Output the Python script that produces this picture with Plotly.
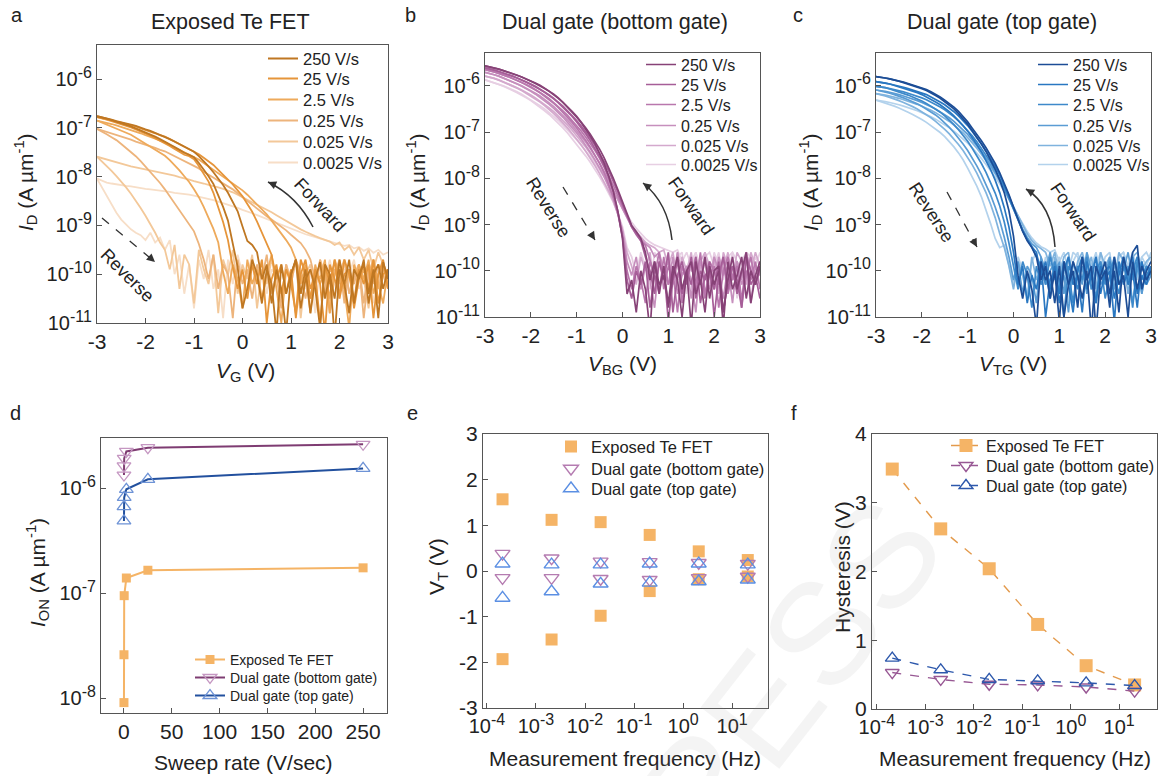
import plotly.graph_objects as go

# ---------------- data ----------------
VG = [-3.0, -2.9, -2.8, -2.7, -2.6, -2.5, -2.4, -2.3, -2.2, -2.1,
      -2.0, -1.9, -1.8, -1.7, -1.6, -1.5, -1.4, -1.3, -1.2, -1.1,
      -1.0, -0.9, -0.8, -0.7, -0.6, -0.5, -0.4, -0.3, -0.2, -0.1,
      0.0, 0.1, 0.2, 0.3, 0.4, 0.5, 0.6, 0.7, 0.8, 0.9,
      1.0, 1.1, 1.2, 1.3, 1.4, 1.5, 1.6, 1.7, 1.8, 1.9,
      2.0, 2.1, 2.2, 2.3, 2.4, 2.5, 2.6, 2.7, 2.8, 2.9, 3.0]

RATE_LABELS = ["250 V/s", "25 V/s", "2.5 V/s", "0.25 V/s", "0.025 V/s", "0.0025 V/s"]

# Panel a: exposed Te FET, log10(I_D) (forward / reverse sweeps)
A_F250 = [-6.76, -6.78, -6.80, -6.83, -6.86, -6.88, -6.91, -6.93, -6.96, -7.00,
          -7.03, -7.06, -7.10, -7.14, -7.18, -7.23, -7.28, -7.33, -7.38, -7.43,
          -7.49, -7.58, -7.68, -7.79, -7.91, -8.03, -8.17, -8.33, -8.52, -8.71,
          -9.02, -9.32, -9.40, -9.55, -10.1, -9.8, -10.6, -9.9, -10.3, -11.2,
          -10.0, -9.7, -10.4, -9.9, -10.8, -10.1, -9.75, -10.5, -10.0, -11.3,
          -9.9, -10.2, -9.7, -10.6, -10.0, -9.8, -10.4, -9.9, -10.9, -9.75, -10.1]
A_R250 = [-6.76, -6.78, -6.81, -6.84, -6.87, -6.90, -6.93, -6.97, -7.01, -7.05,
          -7.09, -7.13, -7.18, -7.23, -7.28, -7.33, -7.39, -7.45, -7.51, -7.55,
          -7.60, -7.72, -7.85, -7.99, -8.15, -8.38, -8.62, -8.90, -9.35, -9.85,
          -10.7, -10.3, -9.7, -10.0, -10.6, -9.9, -10.2, -11.2, -9.8, -10.4,
          -10.0, -9.7, -10.7, -10.1, -9.9, -10.3, -11.1, -9.8, -10.0, -10.5,
          -9.7, -10.2, -10.8, -9.9, -10.1, -9.7, -10.6, -10.0, -9.8, -10.3, -9.9]
A_F25 = [-6.78, -6.80, -6.82, -6.84, -6.87, -6.89, -6.92, -6.94, -6.97, -7.01,
         -7.04, -7.08, -7.11, -7.15, -7.18, -7.23, -7.28, -7.33, -7.38, -7.43,
         -7.48, -7.54, -7.61, -7.68, -7.76, -7.86, -7.96, -8.05, -8.16, -8.28,
         -8.40, -8.56, -8.72, -8.92, -9.15, -9.35, -9.6, -10.1, -9.8, -10.4,
         -9.9, -10.9, -10.0, -9.7, -10.3, -10.0, -11.0, -9.8, -10.2, -9.7,
         -10.5, -10.0, -9.9, -10.7, -10.1, -9.8, -10.3, -9.7, -10.6, -10.0, -9.9]
A_R25 = [-6.78, -6.80, -6.83, -6.86, -6.89, -6.92, -6.95, -6.99, -7.03, -7.07,
         -7.11, -7.16, -7.21, -7.26, -7.31, -7.37, -7.43, -7.49, -7.55, -7.58,
         -7.64, -7.78, -7.93, -8.10, -8.33, -8.62, -8.93, -9.30, -9.85, -10.3,
         -9.9, -10.5, -9.8, -10.2, -9.7, -11.0, -10.1, -9.8, -10.4, -9.9,
         -10.2, -10.8, -9.7, -10.0, -10.5, -9.9, -10.2, -11.2, -9.8, -10.1,
         -10.4, -9.7, -10.0, -10.6, -9.9, -10.2, -9.8, -10.9, -10.0, -9.7, -10.3]
A_F2_5 = [-6.85, -6.87, -6.90, -6.92, -6.95, -6.98, -7.01, -7.04, -7.08, -7.11,
          -7.15, -7.18, -7.22, -7.26, -7.29, -7.35, -7.40, -7.45, -7.50, -7.55,
          -7.59, -7.65, -7.72, -7.79, -7.86, -7.93, -8.00, -8.07, -8.13, -8.20,
          -8.28, -8.37, -8.47, -8.57, -8.67, -8.77, -8.90, -9.03, -9.17, -9.30,
          -9.45, -9.7, -10.2, -9.8, -10.5, -9.9, -10.1, -9.7, -10.8, -10.0,
          -9.8, -10.3, -9.9, -10.6, -9.8, -10.1, -9.7, -10.4, -10.0, -9.8, -10.2]
A_R2_5 = [-6.85, -6.89, -6.93, -6.97, -7.01, -7.05, -7.10, -7.14, -7.20, -7.26,
          -7.32, -7.38, -7.44, -7.50, -7.57, -7.66, -7.76, -7.87, -7.99, -8.11,
          -8.26, -8.42, -8.62, -8.83, -9.07, -9.35, -9.95, -10.4, -9.8, -10.1,
          -10.7, -9.7, -10.2, -9.9, -10.5, -10.0, -9.6, -10.3, -11.0, -9.9,
          -10.1, -9.7, -10.4, -10.0, -10.8, -9.8, -10.2, -9.9, -10.5, -9.7,
          -10.0, -10.3, -11.1, -9.8, -10.1, -9.9, -10.4, -9.7, -10.2, -10.6, -9.9]
A_F0_25 = [-7.02, -7.05, -7.08, -7.11, -7.14, -7.17, -7.21, -7.24, -7.28, -7.31,
           -7.35, -7.38, -7.41, -7.45, -7.48, -7.53, -7.58, -7.63, -7.68, -7.73,
           -7.78, -7.83, -7.90, -7.96, -8.02, -8.08, -8.14, -8.20, -8.26, -8.34,
           -8.42, -8.50, -8.58, -8.66, -8.74, -8.81, -8.88, -8.95, -9.02, -9.10,
           -9.19, -9.28, -9.36, -9.5, -9.7, -10.1, -9.8, -10.4, -9.9, -10.0,
           -9.7, -10.6, -9.9, -10.2, -9.8, -10.9, -10.0, -9.7, -10.3, -9.9, -10.1]
A_R0_25 = [-7.02, -7.07, -7.13, -7.19, -7.25, -7.33, -7.41, -7.49, -7.58, -7.68,
           -7.79, -7.89, -8.01, -8.13, -8.26, -8.40, -8.54, -8.69, -8.83, -8.98,
           -9.12, -9.38, -9.70, -10.1, -9.6, -10.3, -9.8, -10.0, -10.9, -9.7,
           -10.2, -9.9, -10.5, -9.8, -10.1, -9.6, -10.4, -10.0, -10.7, -9.8,
           -10.2, -9.7, -10.0, -10.5, -9.9, -10.3, -9.7, -10.1, -10.8, -9.9,
           -10.0, -9.7, -10.4, -10.1, -9.8, -10.6, -9.9, -10.2, -9.8, -10.0, -10.3]
A_F0_025 = [-7.59, -7.62, -7.65, -7.68, -7.71, -7.74, -7.77, -7.79, -7.81, -7.83,
            -7.85, -7.87, -7.89, -7.91, -7.93, -7.96, -7.98, -8.01, -8.03, -8.06,
            -8.09, -8.11, -8.14, -8.17, -8.19, -8.22, -8.25, -8.28, -8.32, -8.37,
            -8.42, -8.47, -8.52, -8.57, -8.62, -8.67, -8.73, -8.79, -8.85, -8.91,
            -8.97, -9.03, -9.08, -9.13, -9.18, -9.22, -9.26, -9.30, -9.33, -9.40,
            -9.35, -9.50, -9.42, -9.60, -9.45, -9.70, -9.50, -9.90, -9.55, -9.80, -10.1]
A_R0_025 = [-7.59, -7.68, -7.78, -7.88, -7.99, -8.10, -8.22, -8.35, -8.49, -8.64,
            -8.80, -8.97, -9.15, -9.35, -9.5, -9.9, -9.4, -10.3, -9.6, -9.8,
            -10.6, -9.5, -9.9, -10.2, -9.6, -10.8, -9.7, -10.0, -9.5, -10.4,
            -9.8, -10.1, -9.6, -10.7, -9.9, -10.2, -9.7, -10.0, -10.5, -9.8,
            -10.1, -9.7, -10.9, -10.0, -9.8, -10.3, -9.7, -10.0, -10.6, -9.9,
            -10.2, -9.7, -10.4, -10.0, -9.8, -10.1, -10.7, -9.9, -10.2, -9.8, -10.0]
A_F0_0025 = [-8.04, -8.08, -8.12, -8.14, -8.16, -8.17, -8.19, -8.20, -8.22, -8.23,
             -8.25, -8.26, -8.27, -8.29, -8.30, -8.31, -8.33, -8.34, -8.36, -8.37,
             -8.39, -8.41, -8.43, -8.46, -8.48, -8.51, -8.54, -8.57, -8.60, -8.64,
             -8.68, -8.71, -8.75, -8.79, -8.83, -8.87, -8.91, -8.95, -8.99, -9.03,
             -9.07, -9.11, -9.15, -9.18, -9.21, -9.24, -9.27, -9.30, -9.33, -9.36,
             -9.38, -9.42, -9.40, -9.47, -9.44, -9.52, -9.47, -9.56, -9.50, -9.60, -9.55]
A_R0_0025 = [-8.04, -8.22, -8.40, -8.58, -8.74, -8.88, -8.99, -9.08, -9.15, -9.20,
             -9.30, -9.15, -9.35, -9.25, -9.50, -9.30, -10.0, -9.6, -10.4, -9.8,
             -10.7, -9.7, -10.1, -9.5, -10.3, -9.9, -10.9, -9.7, -10.2, -9.6,
             -10.0, -10.5, -9.8, -10.1, -9.7, -10.4, -9.9, -10.0, -10.6, -9.8,
             -10.2, -9.7, -10.0, -10.3, -9.9, -10.8, -9.8, -10.1, -9.7, -10.2,
             -10.5, -9.9, -10.0, -9.7, -10.3, -10.1, -9.8, -10.6, -9.9, -10.0, -10.2]

# Panel b: dual gate, bottom gate sweep
B_F250 = [-5.57, -5.59, -5.61, -5.64, -5.67, -5.70, -5.73, -5.77, -5.81, -5.85,
          -5.89, -5.94, -5.99, -6.05, -6.11, -6.18, -6.26, -6.35, -6.45, -6.55,
          -6.66, -6.78, -6.91, -7.05, -7.20, -7.37, -7.56, -7.77, -8.00, -8.25,
          -8.52, -8.78, -9.02, -9.15, -9.30, -9.6, -10.2, -9.8, -10.5, -9.9,
          -10.8, -10.1, -9.7, -10.4, -10.0, -11.2, -9.8, -10.3, -9.7, -10.6,
          -10.0, -9.9, -10.9, -10.2, -9.7, -10.4, -10.0, -9.6, -10.7, -10.1, -9.8]
B_R250 = [-5.57, -5.59, -5.61, -5.64, -5.67, -5.70, -5.73, -5.77, -5.81, -5.85,
          -5.90, -5.95, -6.00, -6.06, -6.12, -6.19, -6.27, -6.36, -6.46, -6.57,
          -6.68, -6.80, -6.94, -7.09, -7.25, -7.45, -7.68, -7.95, -8.28, -8.72,
          -9.30, -10.5, -10.2, -10.9, -10.0, -10.4, -11.3, -9.8, -10.3, -10.1,
          -10.7, -9.9, -10.2, -11.0, -10.0, -9.8, -10.5, -10.2, -10.9, -9.9,
          -10.3, -10.0, -11.2, -9.8, -10.4, -10.1, -9.7, -10.6, -10.0, -10.3, -9.9]
B_F25 = [-5.61, -5.63, -5.66, -5.69, -5.72, -5.75, -5.79, -5.83, -5.87, -5.91,
         -5.96, -6.01, -6.07, -6.13, -6.20, -6.27, -6.35, -6.44, -6.54, -6.64,
         -6.75, -6.87, -7.00, -7.14, -7.29, -7.46, -7.64, -7.84, -8.06, -8.30,
         -8.56, -8.80, -9.05, -9.20, -9.35, -9.7, -10.0, -10.5, -9.8, -10.2,
         -9.6, -10.9, -10.1, -9.8, -10.3, -9.7, -10.6, -10.0, -10.2, -9.8,
         -11.0, -10.1, -9.7, -10.4, -9.9, -10.2, -10.8, -9.7, -10.0, -10.3, -9.9]
B_R25 = [-5.61, -5.63, -5.66, -5.69, -5.72, -5.75, -5.79, -5.83, -5.87, -5.92,
         -5.97, -6.02, -6.08, -6.14, -6.21, -6.28, -6.37, -6.46, -6.56, -6.66,
         -6.78, -6.90, -7.04, -7.19, -7.35, -7.53, -7.74, -7.99, -8.30, -8.72,
         -9.28, -10.2, -10.6, -10.0, -10.3, -9.8, -10.8, -10.1, -10.4, -9.9,
         -11.1, -10.2, -9.8, -10.5, -10.0, -10.3, -9.7, -10.7, -10.1, -10.0,
         -10.4, -9.8, -10.9, -10.2, -9.9, -10.5, -10.0, -9.7, -10.3, -10.1, -10.6]
B_F2_5 = [-5.65, -5.67, -5.70, -5.73, -5.76, -5.80, -5.84, -5.88, -5.92, -5.97,
          -6.02, -6.08, -6.14, -6.21, -6.28, -6.36, -6.45, -6.54, -6.64, -6.75,
          -6.86, -6.98, -7.11, -7.25, -7.40, -7.57, -7.75, -7.95, -8.16, -8.39,
          -8.62, -8.84, -9.05, -9.22, -9.35, -9.45, -9.8, -10.1, -9.6, -10.4,
          -9.9, -10.2, -9.7, -10.7, -10.0, -9.8, -10.3, -9.6, -10.5, -10.1,
          -9.9, -10.8, -10.0, -9.7, -10.2, -9.9, -10.6, -10.1, -9.7, -10.3, -10.0]
B_R2_5 = [-5.65, -5.67, -5.70, -5.73, -5.76, -5.80, -5.84, -5.88, -5.93, -5.98,
          -6.03, -6.09, -6.15, -6.22, -6.30, -6.38, -6.47, -6.57, -6.68, -6.79,
          -6.91, -7.04, -7.18, -7.33, -7.50, -7.68, -7.88, -8.12, -8.40, -8.78,
          -9.25, -10.0, -10.4, -9.9, -10.2, -10.7, -9.8, -10.1, -10.5, -9.7,
          -10.3, -10.0, -10.9, -9.9, -10.2, -9.8, -10.4, -10.1, -10.6, -9.8,
          -10.0, -10.3, -9.7, -10.5, -10.1, -9.9, -10.8, -10.0, -10.2, -9.8, -10.4]
B_F0_25 = [-5.71, -5.73, -5.76, -5.79, -5.83, -5.87, -5.91, -5.95, -6.00, -6.05,
           -6.10, -6.16, -6.22, -6.29, -6.37, -6.45, -6.54, -6.64, -6.74, -6.85,
           -6.97, -7.09, -7.22, -7.36, -7.51, -7.67, -7.85, -8.04, -8.24, -8.45,
           -8.66, -8.86, -9.05, -9.20, -9.32, -9.42, -9.50, -9.7, -9.6, -10.0,
           -9.8, -10.3, -9.6, -10.1, -9.9, -10.6, -9.7, -10.2, -9.8, -10.0,
           -10.4, -9.7, -10.1, -9.9, -10.7, -9.8, -10.2, -9.6, -10.0, -10.3, -9.8]
B_R0_25 = [-5.71, -5.73, -5.76, -5.79, -5.83, -5.87, -5.91, -5.96, -6.01, -6.06,
           -6.12, -6.18, -6.25, -6.32, -6.40, -6.49, -6.58, -6.68, -6.79, -6.90,
           -7.02, -7.15, -7.29, -7.44, -7.60, -7.78, -7.97, -8.19, -8.44, -8.75,
           -9.15, -9.80, -10.1, -9.7, -10.4, -9.9, -10.2, -10.8, -9.8, -10.0,
           -10.3, -9.7, -10.5, -10.1, -9.9, -10.2, -10.9, -9.8, -10.1, -10.4,
           -9.7, -10.0, -10.6, -9.9, -10.2, -9.8, -10.3, -10.0, -10.7, -9.9, -10.1]
B_F0_025 = [-5.79, -5.81, -5.84, -5.87, -5.91, -5.95, -5.99, -6.04, -6.09, -6.14,
            -6.20, -6.26, -6.33, -6.40, -6.48, -6.56, -6.65, -6.75, -6.85, -6.96,
            -7.08, -7.20, -7.33, -7.47, -7.62, -7.77, -7.93, -8.10, -8.28, -8.47,
            -8.66, -8.85, -9.02, -9.16, -9.28, -9.38, -9.45, -9.50, -9.6, -9.55,
            -9.9, -9.6, -10.2, -9.7, -10.0, -9.6, -10.4, -9.8, -9.6, -10.1,
            -9.7, -10.5, -9.6, -9.9, -10.2, -9.6, -9.8, -10.3, -9.6, -9.9, -10.0]
B_R0_025 = [-5.79, -5.81, -5.84, -5.88, -5.92, -5.96, -6.00, -6.05, -6.10, -6.16,
            -6.22, -6.28, -6.35, -6.43, -6.51, -6.60, -6.70, -6.80, -6.91, -7.03,
            -7.15, -7.28, -7.42, -7.57, -7.73, -7.90, -8.08, -8.28, -8.50, -8.78,
            -9.12, -9.60, -9.9, -10.3, -9.7, -10.0, -9.6, -10.5, -9.8, -10.1,
            -9.7, -10.2, -9.6, -10.6, -9.9, -10.0, -9.7, -10.3, -9.6, -9.9,
            -10.4, -9.7, -10.0, -9.6, -10.2, -9.8, -10.7, -9.7, -10.0, -9.6, -9.9]
B_F0_0025 = [-5.87, -5.90, -5.93, -5.96, -6.00, -6.04, -6.08, -6.13, -6.18, -6.24,
             -6.30, -6.36, -6.43, -6.50, -6.58, -6.66, -6.75, -6.85, -6.95, -7.06,
             -7.17, -7.29, -7.41, -7.54, -7.68, -7.82, -7.97, -8.13, -8.30, -8.47,
             -8.64, -8.80, -8.95, -9.08, -9.20, -9.30, -9.38, -9.44, -9.48, -9.52,
             -9.55, -9.6, -9.55, -9.8, -9.6, -9.9, -9.6, -10.1, -9.7, -9.6,
             -9.9, -9.6, -10.2, -9.7, -9.6, -9.8, -10.0, -9.6, -9.7, -9.9, -9.6]
B_R0_0025 = [-5.87, -5.90, -5.93, -5.97, -6.01, -6.05, -6.10, -6.15, -6.20, -6.26,
             -6.32, -6.39, -6.46, -6.54, -6.62, -6.71, -6.81, -6.91, -7.02, -7.14,
             -7.26, -7.39, -7.52, -7.66, -7.81, -7.97, -8.14, -8.32, -8.52, -8.76,
             -9.05, -9.50, -9.7, -10.1, -9.6, -9.9, -10.4, -9.6, -9.8, -10.0,
             -9.6, -10.2, -9.7, -9.6, -10.5, -9.8, -9.6, -10.0, -9.7, -10.3,
             -9.6, -9.9, -9.7, -10.1, -9.6, -10.6, -9.8, -9.6, -10.0, -9.7, -9.9]

# Panel c: dual gate, top gate sweep
C_F250 = [-5.80, -5.81, -5.83, -5.85, -5.87, -5.89, -5.92, -5.95, -5.98, -6.01,
          -6.04, -6.08, -6.13, -6.18, -6.24, -6.31, -6.38, -6.46, -6.55, -6.66,
          -6.78, -6.92, -7.05, -7.19, -7.34, -7.50, -7.68, -7.88, -8.10, -8.35,
          -8.62, -8.90, -9.15, -9.35, -9.50, -9.7, -10.2, -9.9, -10.6, -10.0,
          -11.1, -9.8, -10.3, -10.0, -10.8, -9.7, -10.2, -9.9, -11.3, -10.1,
          -9.8, -10.5, -10.0, -10.9, -9.7, -10.1, -9.6, -9.45, -10.4, -10.0, -9.8]
C_R250 = [-5.80, -5.81, -5.83, -5.85, -5.87, -5.90, -5.93, -5.96, -5.99, -6.02,
          -6.06, -6.10, -6.15, -6.21, -6.27, -6.34, -6.42, -6.50, -6.60, -6.71,
          -6.83, -6.97, -7.11, -7.26, -7.42, -7.60, -7.80, -8.04, -8.32, -8.70,
          -9.25, -10.1, -10.6, -10.0, -10.4, -11.2, -9.8, -10.2, -10.0, -10.7,
          -9.9, -11.0, -10.3, -9.8, -10.1, -10.6, -10.0, -11.3, -9.9, -10.2,
          -10.0, -10.8, -9.7, -10.3, -10.1, -11.0, -9.8, -10.4, -9.9, -10.2, -10.0]
C_F25 = [-5.91, -5.92, -5.94, -5.96, -5.98, -6.00, -6.03, -6.06, -6.09, -6.12,
         -6.15, -6.19, -6.24, -6.29, -6.35, -6.41, -6.48, -6.56, -6.65, -6.75,
         -6.86, -6.99, -7.12, -7.26, -7.41, -7.57, -7.74, -7.93, -8.14, -8.38,
         -8.64, -8.90, -9.13, -9.32, -9.48, -9.6, -10.1, -9.8, -10.4, -9.9,
         -10.7, -10.0, -9.7, -10.3, -10.1, -10.9, -9.8, -10.2, -9.7, -10.5,
         -10.0, -9.9, -10.6, -10.1, -9.7, -10.3, -10.0, -10.8, -9.8, -10.2, -9.9]
C_R25 = [-5.91, -5.92, -5.94, -5.96, -5.99, -6.02, -6.05, -6.08, -6.11, -6.15,
         -6.19, -6.24, -6.29, -6.35, -6.41, -6.48, -6.56, -6.65, -6.75, -6.86,
         -6.98, -7.12, -7.27, -7.43, -7.61, -7.81, -8.04, -8.31, -8.64, -9.05,
         -9.60, -10.3, -9.9, -10.7, -10.1, -10.4, -9.8, -11.0, -10.2, -10.0,
         -10.5, -9.8, -10.3, -10.9, -10.0, -9.7, -10.4, -10.1, -10.7, -9.9,
         -10.2, -10.0, -11.1, -9.8, -10.3, -10.0, -9.7, -10.5, -10.1, -10.3, -9.9]
C_F2_5 = [-6.01, -6.02, -6.04, -6.06, -6.08, -6.10, -6.13, -6.16, -6.19, -6.22,
          -6.26, -6.30, -6.35, -6.40, -6.46, -6.52, -6.59, -6.67, -6.76, -6.86,
          -6.96, -7.08, -7.21, -7.35, -7.49, -7.65, -7.82, -8.00, -8.20, -8.43,
          -8.67, -8.92, -9.14, -9.33, -9.48, -9.7, -9.9, -10.3, -9.7, -10.1,
          -10.5, -9.8, -10.0, -10.7, -9.9, -10.2, -9.7, -10.4, -10.0, -9.8,
          -10.6, -10.1, -9.7, -10.3, -9.9, -10.0, -10.8, -9.8, -10.2, -9.9, -10.1]
C_R2_5 = [-6.01, -6.02, -6.04, -6.07, -6.10, -6.13, -6.16, -6.20, -6.24, -6.28,
          -6.33, -6.38, -6.44, -6.50, -6.57, -6.65, -6.74, -6.84, -6.95, -7.07,
          -7.20, -7.35, -7.51, -7.68, -7.87, -8.08, -8.32, -8.60, -8.95, -9.40,
          -9.9, -10.4, -9.8, -10.1, -10.8, -9.9, -10.3, -10.0, -10.6, -9.8,
          -10.2, -11.0, -9.9, -10.1, -10.4, -9.7, -10.2, -10.0, -10.7, -9.9,
          -10.3, -9.8, -10.1, -10.5, -9.9, -10.2, -10.0, -9.7, -10.4, -10.1, -9.9]
C_F0_25 = [-6.09, -6.10, -6.12, -6.14, -6.16, -6.19, -6.22, -6.25, -6.28, -6.32,
           -6.36, -6.40, -6.45, -6.50, -6.56, -6.62, -6.69, -6.77, -6.86, -6.95,
           -7.05, -7.17, -7.29, -7.42, -7.56, -7.71, -7.87, -8.04, -8.23, -8.44,
           -8.66, -8.89, -9.10, -9.28, -9.42, -9.50, -9.7, -10.0, -9.6, -10.2,
           -9.8, -10.5, -9.7, -10.1, -9.9, -10.3, -9.6, -10.0, -10.6, -9.8,
           -10.1, -9.7, -10.4, -9.9, -10.0, -9.6, -10.2, -9.8, -10.5, -9.9, -10.0]
C_R0_25 = [-6.09, -6.11, -6.13, -6.16, -6.19, -6.22, -6.26, -6.30, -6.34, -6.39,
           -6.44, -6.50, -6.56, -6.63, -6.71, -6.80, -6.90, -7.01, -7.13, -7.26,
           -7.40, -7.56, -7.73, -7.92, -8.13, -8.36, -8.62, -8.92, -9.28, -9.70,
           -10.2, -9.8, -10.5, -9.9, -10.1, -10.7, -9.7, -10.3, -10.0, -9.8,
           -10.4, -10.1, -10.9, -9.8, -10.2, -9.9, -10.5, -10.0, -9.7, -10.3,
           -10.1, -10.6, -9.8, -10.0, -10.2, -9.9, -10.7, -10.0, -9.8, -10.3, -10.1]
C_F0_025 = [-6.17, -6.18, -6.20, -6.22, -6.24, -6.27, -6.30, -6.33, -6.36, -6.40,
            -6.44, -6.48, -6.53, -6.58, -6.64, -6.70, -6.77, -6.85, -6.93, -7.02,
            -7.12, -7.23, -7.35, -7.48, -7.61, -7.75, -7.90, -8.06, -8.23, -8.42,
            -8.62, -8.83, -9.03, -9.20, -9.35, -9.45, -9.52, -9.6, -9.9, -9.6,
            -10.1, -9.7, -9.6, -10.3, -9.8, -9.6, -10.0, -9.7, -10.4, -9.6,
            -9.9, -9.7, -10.2, -9.6, -9.8, -10.5, -9.7, -9.6, -10.0, -9.8, -9.7]
C_R0_025 = [-6.17, -6.19, -6.22, -6.25, -6.28, -6.32, -6.36, -6.40, -6.45, -6.50,
            -6.56, -6.62, -6.69, -6.77, -6.85, -6.94, -7.04, -7.15, -7.27, -7.40,
            -7.55, -7.71, -7.89, -8.09, -8.31, -8.56, -8.85, -9.20, -9.50, -9.9,
            -10.4, -9.8, -10.1, -10.6, -9.7, -10.2, -9.9, -10.0, -10.5, -9.7,
            -10.3, -9.8, -10.1, -10.8, -9.9, -10.0, -9.7, -10.4, -10.1, -9.8,
            -10.2, -10.6, -9.9, -10.0, -9.7, -10.3, -10.1, -9.8, -10.5, -9.9, -10.0]
C_F0_0025 = [-6.31, -6.32, -6.34, -6.36, -6.38, -6.41, -6.44, -6.47, -6.50, -6.54,
             -6.58, -6.62, -6.67, -6.72, -6.78, -6.84, -6.91, -6.98, -7.06, -7.15,
             -7.24, -7.34, -7.45, -7.57, -7.70, -7.83, -7.97, -8.12, -8.28, -8.45,
             -8.63, -8.81, -8.99, -9.15, -9.29, -9.40, -9.48, -9.53, -9.6, -9.55,
             -9.8, -9.6, -10.0, -9.6, -9.7, -10.2, -9.6, -9.9, -9.6, -10.1,
             -9.7, -9.6, -10.3, -9.7, -9.6, -9.9, -9.6, -10.0, -9.7, -9.6, -9.8]
C_R0_0025 = [-6.31, -6.34, -6.37, -6.40, -6.44, -6.48, -6.52, -6.57, -6.62, -6.67,
             -6.73, -6.79, -6.86, -6.93, -7.01, -7.10, -7.20, -7.32, -7.45, -7.60,
             -7.78, -7.96, -8.17, -8.40, -8.67, -8.98, -9.30, -9.50, -9.45, -9.9,
             -10.3, -9.7, -10.0, -10.6, -9.8, -9.6, -10.2, -9.7, -10.4, -9.9,
             -9.7, -10.1, -10.7, -9.8, -9.6, -10.0, -9.7, -10.3, -9.9, -9.6,
             -10.1, -9.8, -10.5, -9.7, -9.6, -10.0, -9.8, -10.2, -9.7, -9.9, -9.6]

# Panel d: on-current vs sweep rate
RATES = [0.0025, 0.025, 0.25, 2.5, 25, 250]
ION_EXPOSED = [9.1e-9, 2.6e-8, 9.5e-8, 1.4e-7, 1.66e-7, 1.75e-7]
ION_BOTTOM = [1.34e-6, 1.64e-6, 1.93e-6, 2.25e-6, 2.44e-6, 2.63e-6]
ION_TOP = [4.9e-7, 6.7e-7, 8.2e-7, 9.8e-7, 1.22e-6, 1.55e-6]

# Panel e: threshold voltage (forward / reverse) vs measurement frequency
FREQ = [2.08e-4, 2.08e-3, 2.08e-2, 0.208, 2.08, 20.8]
VT_EXP_F = [1.57, 1.12, 1.07, 0.79, 0.43, 0.24]
VT_EXP_R = [-1.93, -1.50, -0.98, -0.44, -0.18, -0.12]
VT_BOT_F = [0.38, 0.28, 0.21, 0.20, 0.18, 0.16]
VT_BOT_R = [-0.15, -0.15, -0.17, -0.19, -0.15, -0.12]
VT_TOP_F = [0.16, 0.14, 0.14, 0.16, 0.16, 0.14]
VT_TOP_R = [-0.59, -0.45, -0.28, -0.26, -0.23, -0.19]

# Panel f: hysteresis vs measurement frequency
HYS_EXP = [3.49, 2.62, 2.04, 1.23, 0.63, 0.35]
HYS_BOT = [0.53, 0.43, 0.36, 0.35, 0.32, 0.26]
HYS_TOP = [0.74, 0.57, 0.43, 0.41, 0.38, 0.34]

DEV_LABELS = ["Exposed Te FET", "Dual gate (bottom gate)", "Dual gate (top gate)"]

# ---------------- styling ----------------
A_COLORS = ["#BF7722", "#E6953A", "#EEAA5B", "#EDB47C", "#F3C899", "#F7DEC7"]
B_COLORS = ["#874277", "#A65E98", "#B977AD", "#C68FBD", "#D4A9CD", "#E7CFE3"]
C_COLORS = ["#1C4D96", "#2977C1", "#3D89CA", "#5A9CD4", "#7FB3DE", "#B3D2EC"]
ORANGE = "#F5B466"
FONT = "Liberation Sans, Arial, sans-serif"
INK = "#222222"
W, H = 1164, 776


def PX(x):
    return x / W


def PY(y):
    return 1 - y / H


legends = {}


def new_legend(text_x, row_y, size):
    n = len(legends) + 1
    name = "legend" if n == 1 else "legend%d" % n
    legends[name] = dict(x=PX(text_x - 40), y=PY(row_y - (size * 0.65 + 5)),
                         xanchor="left", yanchor="top", bgcolor="rgba(0,0,0,0)",
                         font=dict(size=size, color=INK, family=FONT),
                         itemwidth=30, borderwidth=0, tracegroupgap=0)
    return name


fig = go.Figure()

A_SETS = [(A_F250, A_R250), (A_F25, A_R25), (A_F2_5, A_R2_5),
          (A_F0_25, A_R0_25), (A_F0_025, A_R0_025), (A_F0_0025, A_R0_0025)]
B_SETS = [(B_F250, B_R250), (B_F25, B_R25), (B_F2_5, B_R2_5),
          (B_F0_25, B_R0_25), (B_F0_025, B_R0_025), (B_F0_0025, B_R0_0025)]
C_SETS = [(C_F250, C_R250), (C_F25, C_R25), (C_F2_5, C_R2_5),
          (C_F0_25, C_R0_25), (C_F0_025, C_R0_025), (C_F0_0025, C_R0_0025)]

PANEL_LEG = [(303, [57, 77, 98, 119, 140, 161], 16.5),
             (681, [63, 83, 103, 124, 144, 163], 16),
             (1073, [63, 83, 103, 124, 144, 163], 16)]

for p, (sets, colors, ax, lw) in enumerate([(A_SETS, A_COLORS, "", 1.8),
                                            (B_SETS, B_COLORS, "2", 1.7),
                                            (C_SETS, C_COLORS, "3", 1.7)]):
    tx, rows, fs = PANEL_LEG[p]
    names = [new_legend(tx, rows[k], fs) for k in range(6)]
    for k in range(5, -1, -1):
        fwd, rev = sets[k]
        for j, curve in enumerate((rev, fwd)):
            pts = list(zip(VG, curve))
            fig.add_trace(go.Scatter(
                x=[q[0] for q in pts], y=[10 ** q[1] for q in pts],
                mode="lines", line=dict(color=colors[k], width=lw),
                name=RATE_LABELS[k], legend=names[k],
                showlegend=(j == 1), xaxis="x" + ax, yaxis="y" + ax,
                hoverinfo="skip"))

# panel d
LD = [new_legend(230, r, 14) for r in (658, 676, 694)]
fig.add_trace(go.Scatter(x=RATES, y=ION_EXPOSED, mode="lines+markers", name=DEV_LABELS[0],
                         line=dict(color=ORANGE, width=2),
                         marker=dict(symbol="square", size=9, color=ORANGE),
                         xaxis="x4", yaxis="y4", legend=LD[0]))
fig.add_trace(go.Scatter(x=RATES, y=ION_BOTTOM, mode="lines+markers", name=DEV_LABELS[1],
                         line=dict(color="#7E3C72", width=2),
                         marker=dict(symbol="triangle-down-open", size=12,
                                     color="#C597C2", line=dict(width=1.3, color="#C597C2")),
                         xaxis="x4", yaxis="y4", legend=LD[1]))
fig.add_trace(go.Scatter(x=RATES, y=ION_TOP, mode="lines+markers", name=DEV_LABELS[2],
                         line=dict(color="#22509E", width=2),
                         marker=dict(symbol="triangle-up-open", size=12,
                                     color="#6E93D6", line=dict(width=1.3, color="#6E93D6")),
                         xaxis="x4", yaxis="y4", legend=LD[2]))

# panel e
LE = [new_legend(591, r, 16.5) for r in (445, 467, 487)]
fig.add_trace(go.Scatter(x=FREQ + FREQ, y=VT_EXP_F + VT_EXP_R, mode="markers", name=DEV_LABELS[0],
                         marker=dict(symbol="square", size=12, color=ORANGE),
                         xaxis="x5", yaxis="y5", legend=LE[0]))
fig.add_trace(go.Scatter(x=FREQ + FREQ, y=VT_BOT_F + VT_BOT_R, mode="markers", name=DEV_LABELS[1],
                         marker=dict(symbol="triangle-down-open", size=13,
                                     color="#B57CB1", line=dict(width=1.4, color="#B57CB1")),
                         xaxis="x5", yaxis="y5", legend=LE[1]))
fig.add_trace(go.Scatter(x=FREQ + FREQ, y=VT_TOP_F + VT_TOP_R, mode="markers", name=DEV_LABELS[2],
                         marker=dict(symbol="triangle-up-open", size=13,
                                     color="#5B8FE3", line=dict(width=1.4, color="#5B8FE3")),
                         xaxis="x5", yaxis="y5", legend=LE[2]))

# panel f
LF = [new_legend(986, r, 16) for r in (444, 464, 484)]
fig.add_trace(go.Scatter(x=FREQ, y=HYS_EXP, mode="lines+markers", name=DEV_LABELS[0],
                         line=dict(color="#E39A4C", width=1.4, dash="dash"),
                         marker=dict(symbol="square", size=13, color=ORANGE),
                         xaxis="x6", yaxis="y6", legend=LF[0]))
fig.add_trace(go.Scatter(x=FREQ, y=HYS_BOT, mode="lines+markers", name=DEV_LABELS[1],
                         line=dict(color="#985894", width=1.4, dash="dash"),
                         marker=dict(symbol="triangle-down-open", size=12,
                                     color="#985894", line=dict(width=1.4, color="#985894")),
                         xaxis="x6", yaxis="y6", legend=LF[1]))
fig.add_trace(go.Scatter(x=FREQ, y=HYS_TOP, mode="lines+markers", name=DEV_LABELS[2],
                         line=dict(color="#2D58AC", width=1.4, dash="dash"),
                         marker=dict(symbol="triangle-up-open", size=12,
                                     color="#2D58AC", line=dict(width=1.4, color="#2D58AC")),
                         xaxis="x6", yaxis="y6", legend=LF[2]))


def axis(domain, anchor, **kw):
    d = dict(domain=domain, anchor=anchor, showline=True, mirror=True,
             linecolor="#555", linewidth=1.2, ticks="inside", ticklen=5,
             tickwidth=1.2, tickcolor="#555", showgrid=False, zeroline=False,
             tickfont=dict(size=21, color=INK, family=FONT))
    d.update(kw)
    return d


def pow_ticks(lo, hi):
    vals = [10.0 ** e for e in range(lo, hi + 1)]
    text = ['10<sup><span style="font-size:16px">%d</span></sup>' % e for e in range(lo, hi + 1)]
    return vals, text


LOGFONT = dict(size=20, color=INK, family=FONT)
VT = [-3, -2, -1, 0, 1, 2, 3]
VT_TXT = ["-3", "-2", "-1", "0", "1", "2", "3"]
yv_ac, yt_ac = pow_ticks(-11, -6)
yv_d, yt_d = pow_ticks(-8, -6)
xv_ef, xt_ef = pow_ticks(-4, 1)

layout_axes = dict(
    xaxis=axis([PX(97), PX(388)], "y", range=[-3, 3], tickvals=VT, ticktext=VT_TXT),
    yaxis=axis([PY(323), PY(45)], "x", type="log", range=[-11, -5.3], tickvals=yv_ac, ticktext=yt_ac, tickfont=LOGFONT),
    xaxis2=axis([PX(485), PX(760)], "y2", range=[-3, 3], tickvals=VT, ticktext=VT_TXT),
    yaxis2=axis([PY(317), PY(53)], "x2", type="log", range=[-11, -5.29], tickvals=yv_ac, ticktext=yt_ac, tickfont=LOGFONT),
    xaxis3=axis([PX(876), PX(1151)], "y3", range=[-3, 3], tickvals=VT, ticktext=VT_TXT),
    yaxis3=axis([PY(317), PY(53)], "x3", type="log", range=[-11, -5.29], tickvals=yv_ac, ticktext=yt_ac, tickfont=LOGFONT),
    xaxis4=axis([PX(101), PX(387)], "y4", range=[-24, 275], tickvals=[0, 50, 100, 150, 200, 250]),
    yaxis4=axis([PY(713), PY(438)], "x4", type="log", range=[-8.14, -5.52], tickvals=yv_d, ticktext=yt_d, tickfont=LOGFONT),
    xaxis5=axis([PX(483), PX(768)], "y5", type="log", range=[-4.08, 1.73], tickvals=xv_ef, ticktext=xt_ef, tickfont=LOGFONT),
    yaxis5=axis([PY(708), PY(434)], "x5", range=[-3, 3], tickvals=VT, ticktext=VT_TXT),
    xaxis6=axis([PX(872), PX(1157)], "y6", type="log", range=[-4.1, 1.78], tickvals=xv_ef, ticktext=xt_ef, tickfont=LOGFONT),
    yaxis6=axis([PY(709), PY(434)], "x6", range=[0, 4], tickvals=[0, 1, 2, 3, 4], ticktext=["0", "1", "2", "3", "4"]),
)

ann = []


def text(x, y, s, size=21, angle=0, color=INK, **kw):
    ann.append(dict(x=PX(x), y=PY(y), xref="paper", yref="paper", text=s, showarrow=False,
                    textangle=angle, font=dict(size=size, color=color, family=FONT),
                    xanchor="center", yanchor="middle", **kw))


# panel letters and titles
for lx, ly, s in [(17, 15, "a"), (410, 15, "b"), (798, 15, "c"),
                  (15, 413, "d"), (412, 413, "e"), (794, 413, "f")]:
    text(lx, ly, s, size=20)
text(230, 22, "Exposed Te FET", size=21.5)
text(615, 22, "Dual gate (bottom gate)", size=21.5)
text(1002, 22, "Dual gate (top gate)", size=21.5)

# axis titles
ID = "<i>I</i><sub>D</sub> (A µm<sup>-1</sup>)"
text(25, 182, ID, angle=-90)
text(417, 182, ID, angle=-90)
text(810, 182, ID, angle=-90)
text(245, 372, "<i>V</i><sub>G</sub> (V)")
text(622, 365, "<i>V</i><sub>BG</sub> (V)")
text(1013, 365, "<i>V</i><sub>TG</sub> (V)")
text(37, 573, "<i>I</i><sub>ON</sub> (A µm<sup>-1</sup>)", angle=-90)
text(243, 762, "Sweep rate (V/sec)")
text(438, 567, "V<sub>T</sub> (V)", angle=-90)
text(625, 758, "Measurement frequency (Hz)")
text(842, 567, "Hysteresis (V)", angle=-90)
text(1015, 758, "Measurement frequency (Hz)")

# Forward / Reverse labels
text(320, 205, "Forward", size=18, angle=47)
text(127, 275, "Reverse", size=18, angle=45)
text(548, 207, "Reverse", size=18, angle=58)
text(691, 206, "Forward", size=18, angle=55)
text(931, 212, "Reverse", size=18, angle=57)
text(1073, 212, "Forward", size=18, angle=56)

shapes = []


def curved_arrow(x0, y0, cx, cy, x1, y1, hx, hy):
    shapes.append(dict(type="path", xref="paper", yref="paper",
                       path="M %.5f,%.5f Q %.5f,%.5f %.5f,%.5f" % (PX(x0), PY(y0), PX(cx), PY(cy), PX(x1), PY(y1)),
                       line=dict(color="#333", width=1.5)))
    ann.append(dict(x=PX(x1), y=PY(y1), xref="paper", yref="paper", text="", showarrow=True,
                    ax=hx, ay=hy, arrowhead=2, arrowsize=1.1, arrowwidth=1.5, arrowcolor="#333"))


def dashed_arrow(x0, y0, x1, y1, hx, hy):
    shapes.append(dict(type="line", xref="paper", yref="paper",
                       x0=PX(x0), y0=PY(y0), x1=PX(x1), y1=PY(y1),
                       line=dict(color="#333", width=1.3, dash="dash")))
    ann.append(dict(x=PX(x1), y=PY(y1), xref="paper", yref="paper", text="", showarrow=True,
                    ax=hx, ay=hy, arrowhead=2, arrowsize=1.1, arrowwidth=1.5, arrowcolor="#333"))


curved_arrow(313, 227, 297, 196, 268, 182, 9, 4)
dashed_arrow(102, 218, 155, 262, -8, -7)
curved_arrow(672, 240, 668, 203, 643, 183, 8, 6)
dashed_arrow(563, 187, 595, 240, -5, -8)
curved_arrow(1055, 247, 1052, 205, 1026, 189, 8, 5)
dashed_arrow(947, 192, 977, 247, -5, -9)

# faint journal watermark
ann.append(dict(x=PX(760), y=PY(712), xref="paper", yref="paper", text="PRESS", showarrow=False,
                xanchor="center", yanchor="middle",
                textangle=-52, font=dict(size=145, color="rgba(150,150,150,0.10)", family=FONT)))

fig.update_layout(
    width=W, height=H, margin=dict(l=0, r=0, t=0, b=0, autoexpand=False),
    paper_bgcolor="white", plot_bgcolor="white",
    font=dict(family=FONT, color=INK),
    showlegend=True,
    annotations=ann, shapes=shapes,
    **legends, **layout_axes)

fig.write_html("out.html", config={"displayModeBar": False},
               post_script="document.body.style.margin='0px';")
